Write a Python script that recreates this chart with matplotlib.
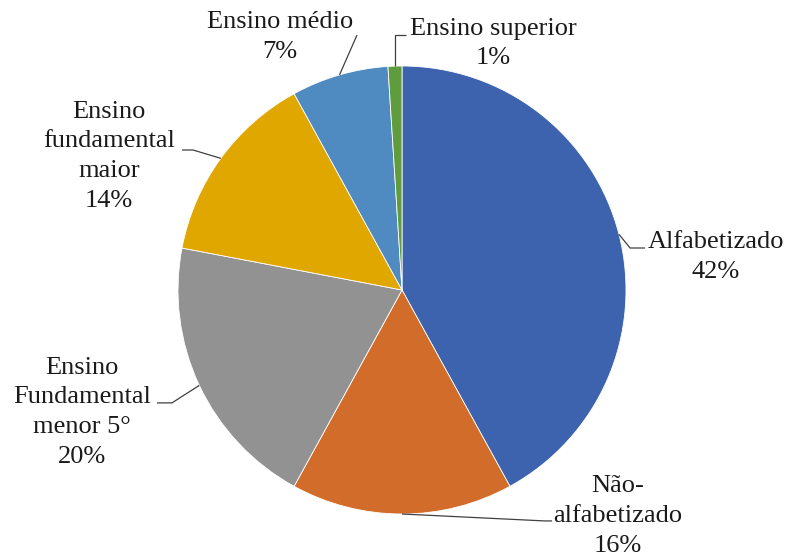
#!/usr/bin/env python3
"""Pie chart: distribuição por escolaridade."""

import numpy as np
import matplotlib
matplotlib.use('Agg')
import matplotlib.pyplot as plt

# --- Data ---
labels = ['Alfabetizado', 'Não-\nalfabetizado', 'Ensino\nFundamental\nmenor 5°',
          'Ensino\nfundamental\nmaior', 'Ensino médio', 'Ensino superior']
values = [42, 16, 20, 14, 7, 1]
colors = ['#3D63AE', '#D26C2A', '#929292', '#E0A700', '#4F8AC1', '#5F9C3D']

# label block centres and leader elbows (pie-radius units)
text_pos = [(1.40, 0.147), (0.964, -1.009), (-1.43, -0.545),
            (-1.308, 0.598), (-0.545, 1.129), (0.406, 1.10)]
elbows = [[(1.018, 0.1875), (1.085, 0.1875)],
          [(0.638, -1.031), (0.67, -1.031)],
          [(-1.027, -0.504), (-1.094, -0.504)],
          [(-0.933, 0.625), (-0.982, 0.625)],
          [(-0.201, 1.138)],
          [(-0.045, 1.14), (0.02, 1.14)]]

plt.rcParams['font.family'] = ['Liberation Serif', 'DejaVu Serif']

W, H = 785, 556
fig = plt.figure(figsize=(W / 100, H / 100), dpi=100)
cx, cy, r = 402, 290, 224
ax = fig.add_axes([(cx - r) / W, (H - cy - r) / H, 2 * r / W, 2 * r / H])

wedges, _ = ax.pie(values, colors=colors, startangle=90, counterclock=False,
                   radius=1, wedgeprops=dict(edgecolor='white', linewidth=0.6))
ax.set_xlim(-1, 1)
ax.set_ylim(-1, 1)
ax.axis('off')

total = sum(values)
cum = 0
for i, v in enumerate(values):
    mid = (cum + v / 2) / total * 360   # clockwise from top
    cum += v
    ang = np.deg2rad(mid)
    ax_pt = (np.sin(ang), np.cos(ang))
    pts = [ax_pt] + elbows[i]
    if i == 5:
        pts = [ax_pt, (ax_pt[0], elbows[i][0][1]), elbows[i][1]]
    xs, ys = zip(*pts)
    ax.plot(xs, ys, color='#404040', linewidth=0.9, clip_on=False,
            solid_capstyle='butt')
    ax.text(text_pos[i][0], text_pos[i][1], f'{labels[i]}\n{v}%',
            ha='center', va='center', fontsize=19, color='#1a1a1a',
            linespacing=1.45, clip_on=False)

fig.savefig('out.png', dpi=100)
plt.close(fig)
